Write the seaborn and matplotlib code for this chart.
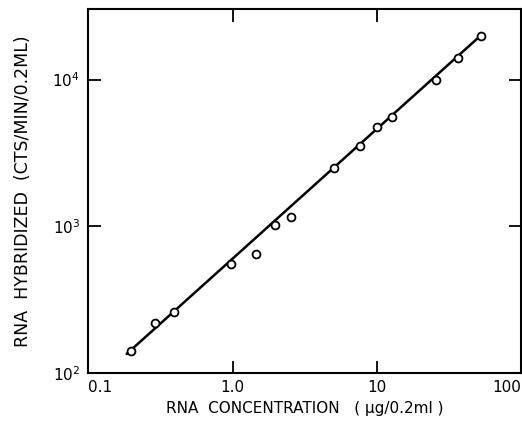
import numpy as np
import pandas as pd
import matplotlib
matplotlib.use("Agg")
import matplotlib.pyplot as plt
import seaborn as sns

# RNA concentration (ug / 0.2 ml) and counts hybridized (cts/min/0.2 ml)
rna_conc = [0.196, 0.289, 0.392, 0.98, 1.45, 1.96, 2.52, 5.04, 7.67,
            10.1, 12.8, 25.7, 36.7, 52.5]
cts_hybridized = [141, 218, 259, 553, 645, 1020, 1163, 2486, 3528,
                  4775, 5590, 9940, 13970, 19920]

# end points of the drawn proportionality line
fit_conc = [0.184, 52.5]
fit_cts = [135, 19920]

x_ticks = [0.1, 1.0, 10, 100]
x_tick_labels = ["0.1", "1.0", "10", "100"]
y_ticks = [1e2, 1e3, 1e4]
y_tick_labels = [r"$10^{2}$", r"$10^{3}$", r"$10^{4}$"]

points = pd.DataFrame({"conc": rna_conc, "cts": cts_hybridized})
fit = pd.DataFrame({"conc": fit_conc, "cts": fit_cts})

sns.set_style("ticks")
plt.rcParams["font.family"] = ["DejaVu Sans"]
plt.rcParams["text.color"] = "black"
plt.rcParams["axes.labelcolor"] = "black"

fig = plt.figure(figsize=(5.22, 4.22), dpi=100)
ax = fig.add_axes([0.1695, 0.116, 0.8285, 0.8615])

sns.lineplot(data=fit, x="conc", y="cts", ax=ax, color="black",
             linewidth=1.8, zorder=2)
sns.scatterplot(data=points, x="conc", y="cts", ax=ax, marker="o",
                s=32, facecolor="white", edgecolor="black",
                linewidth=1.3, zorder=3)

ax.set_xscale("log")
ax.set_yscale("log")
ax.set_xlim(0.1, 100)
ax.set_ylim(100, 30000)

ax.set_xticks(x_ticks)
ax.set_xticklabels(x_tick_labels)
ax.set_yticks(y_ticks)
ax.set_yticklabels(y_tick_labels)
ax.minorticks_off()

ax.tick_params(axis="both", which="major", direction="in", length=9,
               width=1.3, top=True, right=True, labelsize=11,
               colors="black")
ax.tick_params(axis="x", pad=5)
ax.tick_params(axis="y", pad=6)

# end labels sit inside the frame width
xlabels = ax.get_xticklabels()
xlabels[0].set_horizontalalignment("left")
xlabels[-1].set_horizontalalignment("right")

for sp in ax.spines.values():
    sp.set_linewidth(1.5)
    sp.set_color("black")

ax.set_xlabel("RNA  CONCENTRATION   ( \u03bcg/0.2ml )", fontsize=11,
              labelpad=4)
ax.set_ylabel("RNA  HYBRIDIZED  (CTS/MIN/0.2ML)", fontsize=12.5,
              labelpad=15)

fig.savefig("out.png", dpi=100)
